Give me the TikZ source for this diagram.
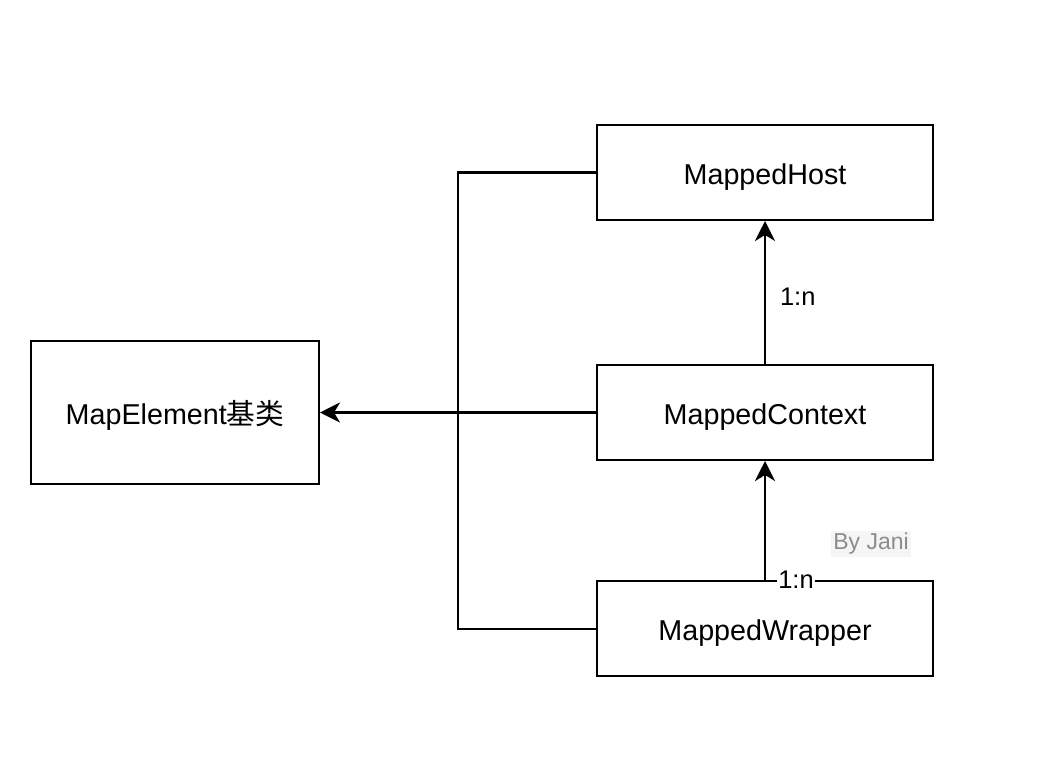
\documentclass[tikz,border=0pt]{standalone}
\usepackage{fontspec}
\setmainfont{Liberation Sans}
\newfontfamily\cjk{Noto Sans CJK SC}
\usetikzlibrary{arrows.meta}
\begin{document}
\begin{tikzpicture}[x=1pt,y=-1pt,
  box/.style={draw,line width=2pt,minimum width=336pt,minimum height=95pt,inner sep=0pt,
    text height=23pt,text depth=0pt,
    font=\fontsize{28.7}{34}\selectfont},
  conn/.style={line width=2pt},
  arr/.style={line width=2pt,-{Stealth[length=20pt,width=20pt,inset=6pt]}},
  lbl/.style={font=\fontsize{25.5}{30}\selectfont,inner sep=1pt}]
\useasboundingbox (0,0) rectangle (1048,762);
\node[box] (host) at (765,172.5) {MappedHost};
\node[box] (ctx) at (765,412.5) {MappedContext};
\node[box] (wrap) at (765,628.5) {MappedWrapper};
\node[box,minimum width=288pt,minimum height=143pt] (base) at (175,412.5) {MapElement{\cjk 基类}};
\coordinate (j1) at (458,172.5);
\coordinate (j2) at (458,628.5);
\draw[conn] (host.west) -- (j1) -- (j2) -- (wrap.west);
\draw[arr,line width=2.8pt] (ctx.west) -- (base.east);
\draw[arr] (ctx.north) -- (host.south) node[lbl,pos=0.47,right=13pt] {1:n};
\draw[arr,line width=2.8pt] (wrap.north -| ctx.south) -- (ctx.south);
\node[lbl,fill=white] (l2) at (796,580) {1:n};
\node[font=\fontsize{23}{27}\selectfont,text=black!45,fill=black!4,inner sep=2pt] (wm) at (871,544) {By Jani};
\end{tikzpicture}
\end{document}
